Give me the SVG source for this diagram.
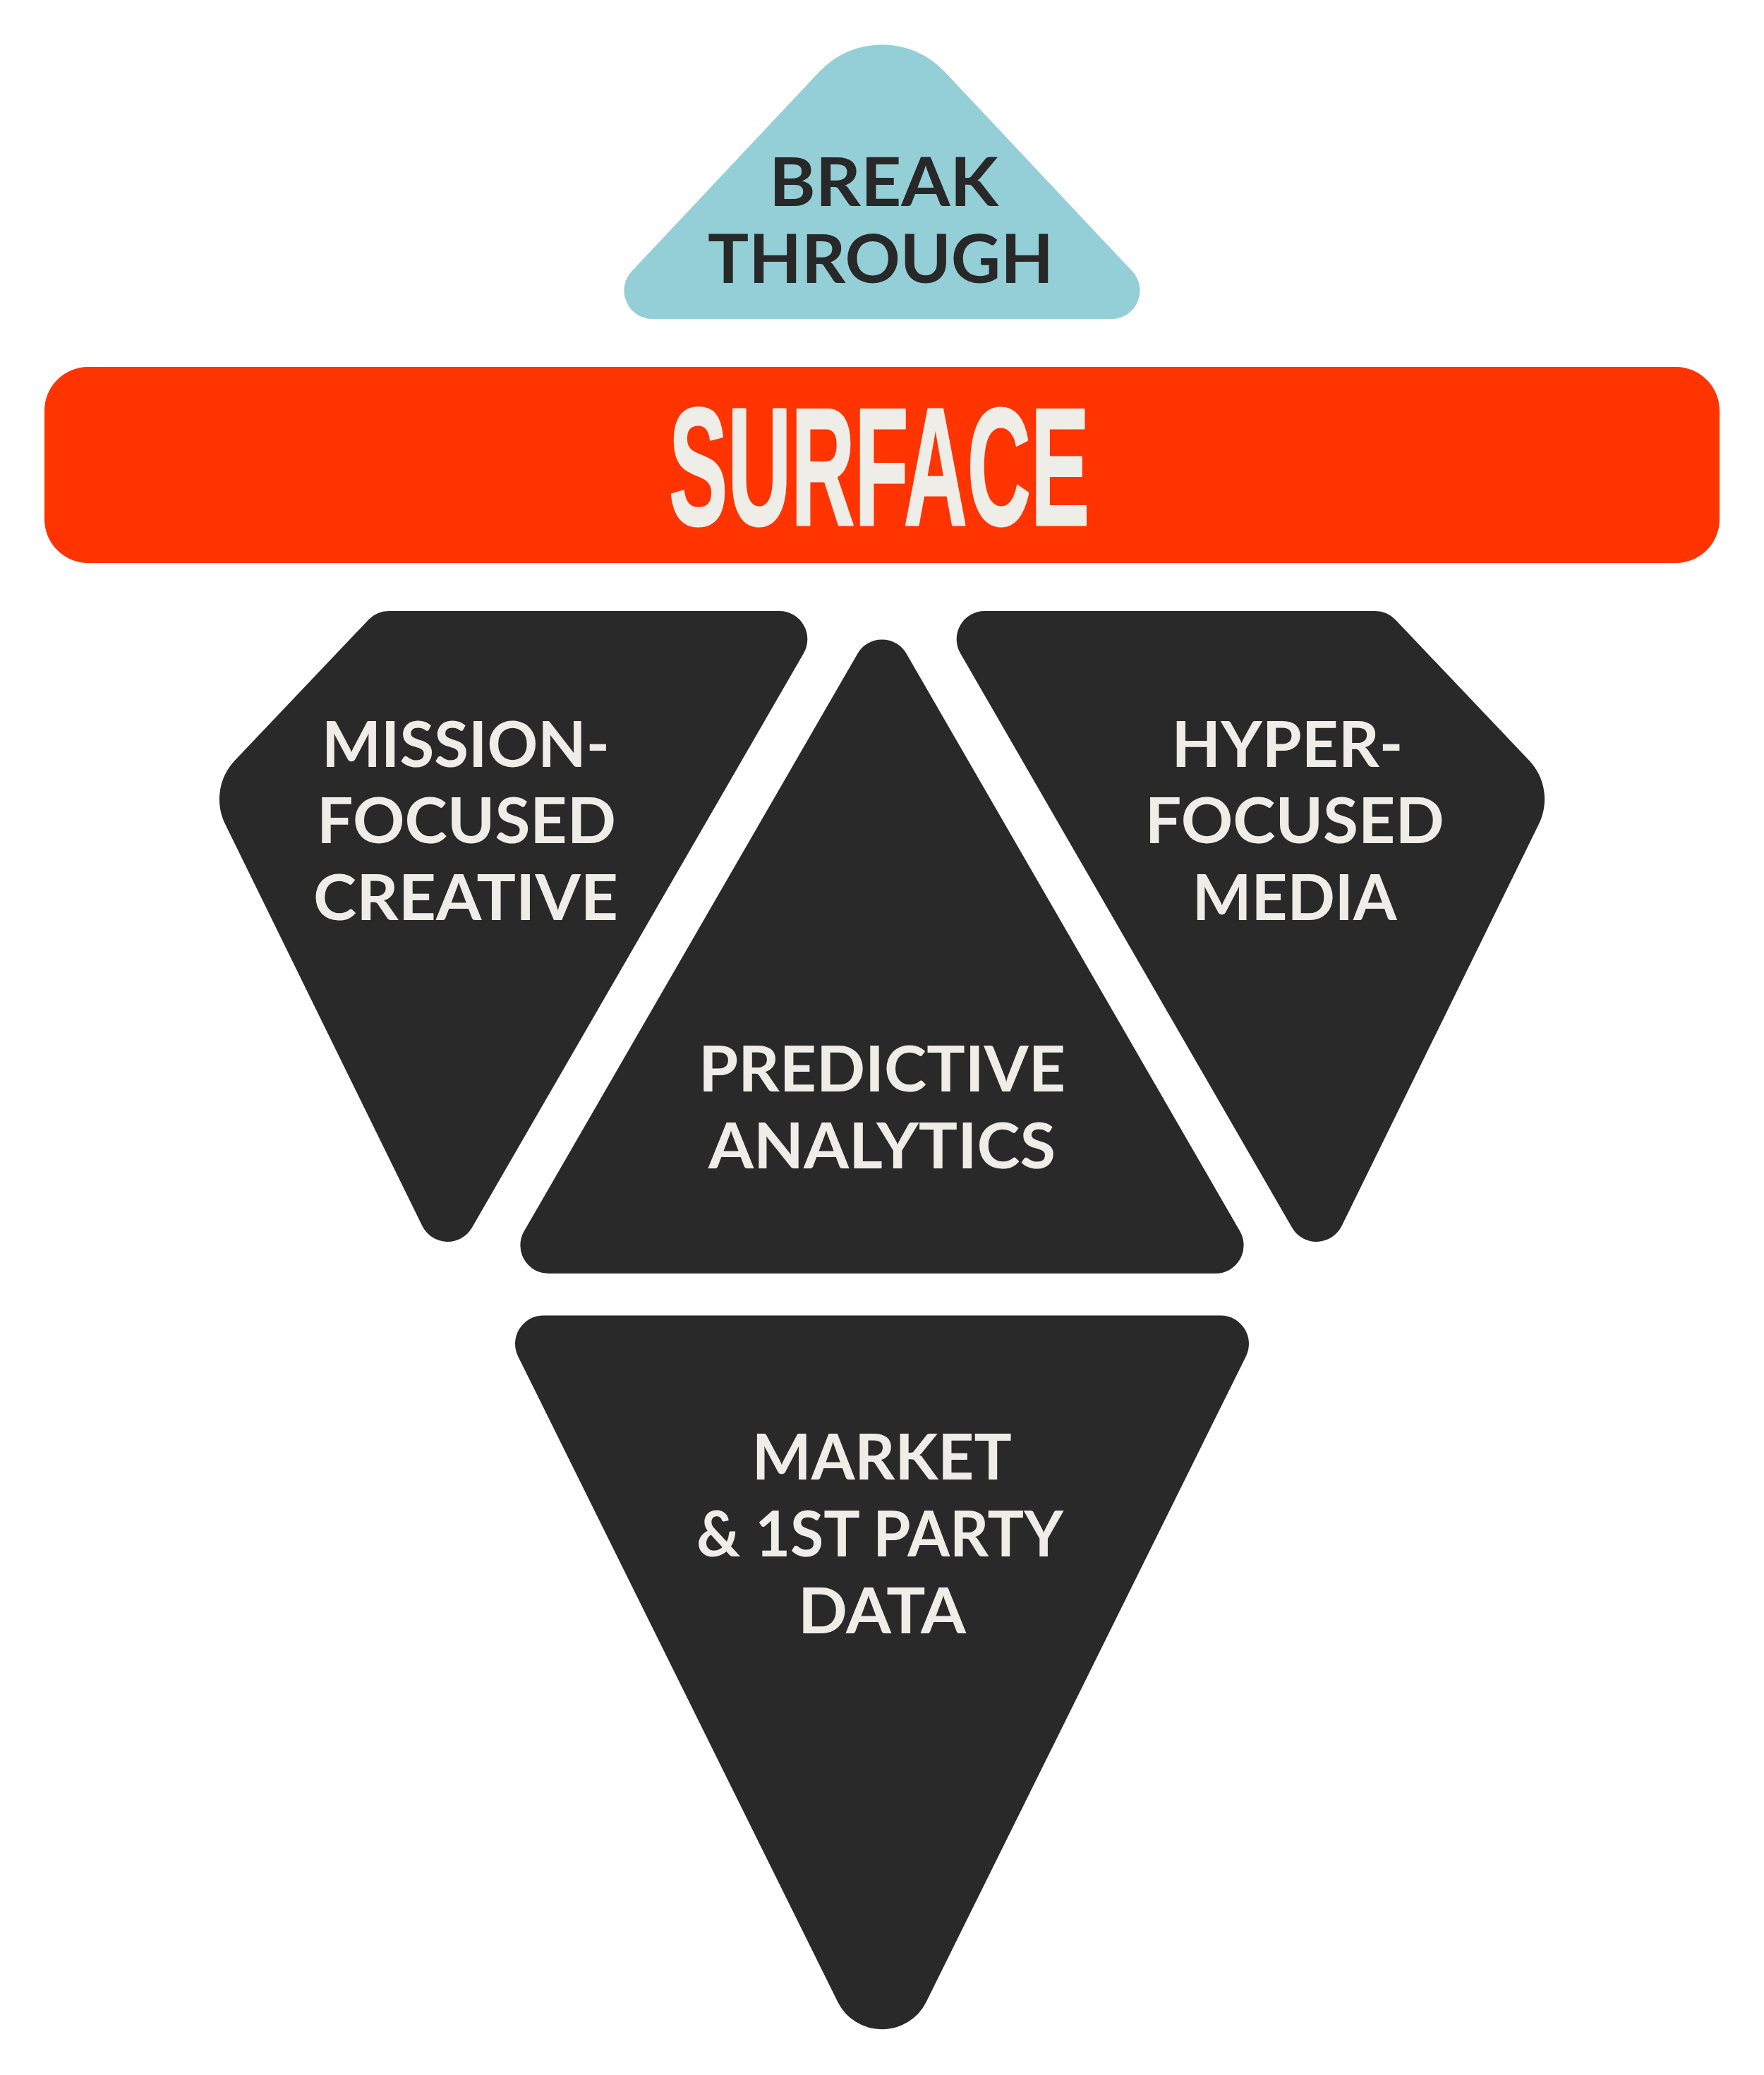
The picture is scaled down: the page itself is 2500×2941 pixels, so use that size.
<svg xmlns="http://www.w3.org/2000/svg" width="2500" height="2941" viewBox="0 0 2500 2941">
<style>
.bg{fill:#FFFFFF}
.dark{fill:#292929}
.teal{fill:#94CFD7}
.red{fill:#FF3400}
.lbl{font-family:Lato,"Liberation Sans",sans-serif;font-weight:700;font-size:90px;fill:#EEEDE8;text-anchor:middle}
.tlbl{font-family:Lato,"Liberation Sans",sans-serif;font-weight:700;font-size:96px;fill:#282828;text-anchor:middle}
.surf{font-family:"Liberation Sans",Arial,sans-serif;font-weight:700;font-size:238px;fill:#EEEDE8;stroke:#EEEDE8;stroke-width:3;stroke-linejoin:round;text-anchor:middle}
</style>
<rect class="bg" x="0" y="0" width="2500" height="2941"/>

<g id="breakthrough">
<path class="teal" d="M 1161.1 101.7 A 122 122 0 0 1 1338.9 101.7 L 1604.7 384.6 A 40 40 0 0 1 1575.6 452 L 924.4 452 A 40 40 0 0 1 895.3 384.6 Z"/>
<text class="tlbl" x="1252.5" y="292" textLength="325" lengthAdjust="spacingAndGlyphs">BREAK</text>
<text class="tlbl" x="1248" y="401" textLength="490" lengthAdjust="spacingAndGlyphs">THROUGH</text>
</g>

<g id="surface">
<rect class="red" x="63" y="520" width="2374" height="278" rx="62" ry="62"/>
<text class="surf" x="1246" y="744" textLength="596" lengthAdjust="spacingAndGlyphs">SURFACE</text>
</g>

<g id="mission-focused-creative">
<path class="dark" d="M 551.2 866 L 1104.3 866 A 40 40 0 0 1 1138.95 926 L 668.9 1740 A 40 40 0 0 1 598.4 1737.6 L 319.1 1168 A 80 80 0 0 1 332.9 1077.7 L 522.2 878.5 A 40 40 0 0 1 551.2 866 Z"/>
<text class="lbl" x="660" y="1087" textLength="408" lengthAdjust="spacingAndGlyphs">MISSION-</text>
<text class="lbl" x="661" y="1195" textLength="424" lengthAdjust="spacingAndGlyphs">FOCUSED</text>
<text class="lbl" x="660" y="1304" textLength="432" lengthAdjust="spacingAndGlyphs">CREATIVE</text>
</g>

<g id="predictive-analytics">
<path class="dark" d="M 1215.35 926.5 A 40 40 0 0 1 1284.65 926.5 L 1757.25 1745 A 40 40 0 0 1 1722.6 1805 L 777.4 1805 A 40 40 0 0 1 742.75 1745 Z"/>
<text class="lbl" x="1250" y="1547" textLength="520" lengthAdjust="spacingAndGlyphs">PREDICTIVE</text>
<text class="lbl" x="1250" y="1656" textLength="492" lengthAdjust="spacingAndGlyphs">ANALYTICS</text>
</g>

<g id="hyper-focused-media">
<path class="dark" d="M 1948.8 866 L 1395.7 866 A 40 40 0 0 0 1361.05 926 L 1831.1 1740 A 40 40 0 0 0 1901.6 1737.6 L 2180.9 1168 A 80 80 0 0 0 2167.1 1077.7 L 1977.8 878.5 A 40 40 0 0 0 1948.8 866 Z"/>
<text class="lbl" x="1824.5" y="1087" textLength="328" lengthAdjust="spacingAndGlyphs">HYPER-</text>
<text class="lbl" x="1834.7" y="1195" textLength="424" lengthAdjust="spacingAndGlyphs">FOCUSED</text>
<text class="lbl" x="1834.7" y="1304" textLength="290" lengthAdjust="spacingAndGlyphs">MEDIA</text>
</g>

<g id="market-first-party-data">
<path class="dark" d="M 770.1 1864.6 L 1729.9 1864.6 A 40 40 0 0 1 1765.8 1922.4 L 1312.7 2837.4 A 70 70 0 0 1 1187.3 2837.4 L 734.2 1922.4 A 40 40 0 0 1 770.1 1864.6 Z"/>
<text class="lbl" x="1249.7" y="2097" textLength="368" lengthAdjust="spacingAndGlyphs">MARKET</text>
<text class="lbl" x="1247" y="2206" textLength="520" lengthAdjust="spacingAndGlyphs">&amp; 1ST PARTY</text>
<text class="lbl" x="1250" y="2314.5" textLength="238" lengthAdjust="spacingAndGlyphs">DATA</text>
</g>
</svg>
